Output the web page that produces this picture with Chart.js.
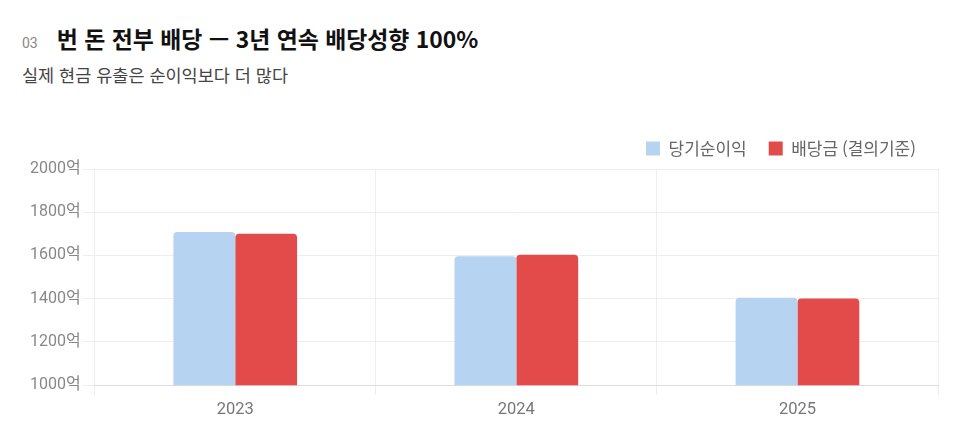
<!DOCTYPE html>
<html lang="ko">
<head>
<meta charset="utf-8">
<script src="https://cdn.jsdelivr.net/npm/chart.js@4.4.1/dist/chart.umd.min.js"></script>
<style>
  body { margin: 0; background: #fff; font-family: "Noto Sans CJK KR", "Noto Sans", sans-serif; }
  .head { position: absolute; left: 22px; top: 21px; white-space: nowrap; }
  .num { font-size: 14px; color: #888; margin-right: 19px; font-family: Roboto, sans-serif; }
  .title { font-size: 22.9px; font-weight: 700; color: #111; }
  .sub { position: absolute; left: 22px; top: 62px; font-size: 17.5px; color: #444; white-space: nowrap; }
  .wrap { position: absolute; left: 28px; top: 118px; width: 915px; height: 307px; }
</style>
</head>
<body>
<div class="head"><span class="num">03</span><span class="title">번 돈 전부 배당 — 3년 연속 배당성향 100%</span></div>
<div class="sub">실제 현금 유출은 순이익보다 더 많다</div>
<div class="wrap"><canvas id="c"></canvas></div>
<script>
const years = ['2023', '2024', '2025'];
const netIncome = [1709, 1597, 1404];
const dividend = [1701, 1603, 1401];
const seriesNames = ['당기순이익', '배당금 (결의기준)'];

// a bit more room under the legend
const legendGap = {
    id: 'legendGap',
    beforeInit(chart) {
        const fit = chart.legend.fit;
        chart.legend.fit = function () {
            fit.bind(chart.legend)();
            this.height += 2;
        };
    }
};

const ctx = document.getElementById('c').getContext('2d');
new Chart(ctx, {
    type: 'bar',
    data: {
        labels: years,
        datasets: [{
            label: seriesNames[0],
            data: netIncome,
            backgroundColor: '#b6d4f2',
            borderRadius: 4,
            borderSkipped: 'bottom'
        }, {
            label: seriesNames[1],
            data: dividend,
            backgroundColor: '#e34b4b',
            borderRadius: 4,
            borderSkipped: 'bottom'
        }]
    },
    options: {
        responsive: true,
        maintainAspectRatio: false,
        animation: false,
        categoryPercentage: 0.44,
        barPercentage: 1.0,
        layout: { padding: { right: 5 } },
        plugins: {
            legend: {
                align: 'end',
                labels: {
                    boxWidth: 14,
                    boxHeight: 14,
                    padding: 22,
                    color: '#666',
                    font: { size: 17, family: '"Noto Sans CJK KR", sans-serif' }
                }
            },
            tooltip: { enabled: false }
        },
        scales: {
            x: {
                grid: { color: '#eeeeee', offset: true, tickLength: 10 },
                border: { color: '#dddddd' },
                ticks: { color: '#777', padding: 5, font: { size: 16.5, family: 'Roboto, sans-serif' } }
            },
            y: {
                min: 1000,
                max: 2000,
                grid: { color: '#eeeeee', tickLength: 12 },
                border: { display: false },
                ticks: {
                    stepSize: 200,
                    color: '#888',
                    padding: 2,
                    font: { size: 16, family: 'Roboto, "Noto Sans CJK KR", sans-serif' },
                    callback: v => v + '억'
                }
            }
        }
    },
    plugins: [legendGap]
});
</script>
</body>
</html>
